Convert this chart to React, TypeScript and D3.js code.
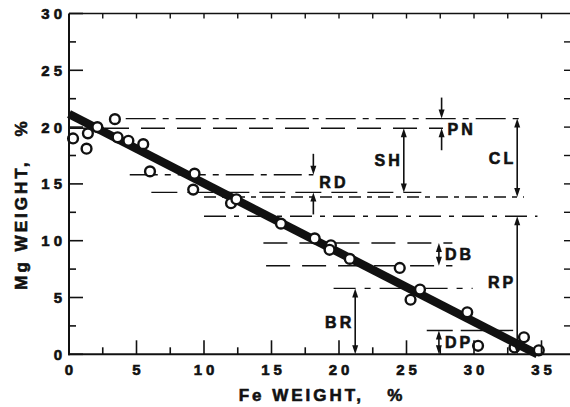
import React from 'react';
import * as d3 from 'd3';

// Measured samples (Fe weight %, Mg weight %)
const feValues = [0.3, 1.4, 1.3, 2.1, 3.4, 3.6, 4.4, 5.5, 6.0, 9.3, 9.2, 12.0, 12.4, 15.7, 18.2, 19.4, 19.3, 20.8, 24.5, 26.0, 25.3, 29.5, 30.3, 33.7, 34.8];
const mgValues = [19.0, 19.45, 18.1, 20.0, 20.7, 19.1, 18.8, 18.5, 16.1, 15.9, 14.5, 13.3, 13.65, 11.5, 10.2, 9.6, 9.2, 8.4, 7.6, 5.7, 4.8, 3.7, 0.75, 1.5, 0.35];
// partly hidden sample under the fitted line
const hiddenFe = [33.0];
const hiddenMg = [0.6];

// Fitted line
const fitFe = [0, 34.7];
const fitMg = [21.15, 0];

// Axis ticks
const xTickValues = [0, 5, 10, 15, 20, 25, 30, 35];
const yTickValues = [0, 5, 10, 15, 20, 25, 30];
const xMinorValues = [2.5, 7.5, 12.5, 17.5, 22.5, 27.5, 32.5];
const yMinorValues = [2.5, 7.5, 12.5, 17.5, 22.5, 27.5];

// Horizontal reference levels (Mg %) with their Fe extent
const levelMg = [20.75, 19.9, 15.8, 14.25, 13.85, 12.15, 9.8, 7.8, 5.8, 2.1];
const levelFeStart = [4.2, 0, 4.5, 6.1, 10.0, 10.0, 14.4, 14.6, 19.6, 26.5];
const levelFeEnd = [33.5, 27.7, 18.1, 26.1, 33.7, 34.7, 28.4, 28.4, 29.9, 32.9];

// Band annotations
const bandNames = ['PN', 'SH', 'CL', 'RD', 'DB', 'RP', 'BR', 'DP'];
const bandFe = [27.6, 24.8, 33.2, 18.1, 27.4, 33.2, 21.2, 27.4];
const bandTop = [20.75, 19.9, 20.75, 15.8, 9.8, 12.15, 5.8, 2.1];
const bandBottom = [19.9, 14.25, 13.85, 14.25, 7.8, 0, 0, 0];

const xTitle = 'Fe WEIGHT,   %';
const yTitle = 'Mg WEIGHT,   %';

// styling (not data)
const levelDash = ['30,7,6,7', '24,12', '28,7,6,7', '26,10', '12,6,5,6', '22,8,5,8', '24,12', '24,12', '22,9,6,9', '26,8'];
const bandOutside = [true, false, false, true, false, false, false, false];
const bandLeft = [false, true, true, false, false, true, true, false];
const bandDy = [6, 0, 1, -1, 0, -3, 1, 0];

const W = 570;
const H = 407;
const FONT = '"Liberation Sans", Arial, Helvetica, sans-serif';
const INK = '#111';

function arrowHead(x: number, tipY: number, dir: number) {
  // dir = 1 : pointing down, -1 : pointing up
  const L = 9;
  const hw = 3;
  return `M${x},${tipY} L${x - hw},${tipY - dir * L} L${x + hw},${tipY - dir * L} Z`;
}

export default function App() {
  const x = d3.scaleLinear().domain([0, 37]).range([69, 568.5]);
  const y = d3.scaleLinear().domain([0, 30]).range([354.3, 13.5]);

  const fitLine = d3
    .line<number>()
    .x((_, i) => x(fitFe[i]))
    .y((_, i) => y(fitMg[i]));

  const x0 = x(0);
  const x1 = 570;
  const y0 = y(0);
  const yTop = y(30);

  const tickFont = { fontFamily: FONT, fontWeight: 700, fontSize: 15, letterSpacing: 4 } as const;
  const labFont = { fontFamily: FONT, fontWeight: 700, fontSize: 16, letterSpacing: 3 } as const;
  const thick = { stroke: INK, strokeWidth: 0.6 };

  return (
    <svg
      width={W}
      height={H}
      viewBox={`0 0 ${W} ${H}`}
      style={{ position: 'absolute', left: 0, top: 0, background: '#fff' }}
    >
      <rect x={0} y={0} width={W} height={H} fill="#fff" />

      {/* reference levels */}
      {levelMg.map((v, i) => (
        <line
          key={'lv' + i}
          x1={x(levelFeStart[i])}
          x2={x(levelFeEnd[i])}
          y1={y(v)}
          y2={y(v)}
          stroke={INK}
          strokeWidth={1.4}
          strokeDasharray={levelDash[i]}
        />
      ))}

      {/* hidden sample */}
      {hiddenFe.map((v, i) => (
        <circle key={'h' + i} cx={x(v)} cy={y(hiddenMg[i])} r={4.9} fill="#fff" stroke={INK} strokeWidth={2.4} />
      ))}

      {/* fitted line */}
      <path d={fitLine(fitFe) || ''} fill="none" stroke={INK} strokeWidth={8.5} />

      {/* samples */}
      {feValues.map((v, i) => (
        <circle key={'p' + i} cx={x(v)} cy={y(mgValues[i])} r={4.9} fill="#fff" stroke={INK} strokeWidth={2.4} />
      ))}

      {/* band arrows */}
      {bandNames.map((name, i) => {
        const ax = x(bandFe[i]);
        const yt = y(bandTop[i]);
        const yb = y(bandBottom[i]);
        const parts: React.ReactNode[] = [];
        if (bandOutside[i]) {
          parts.push(<line key="a" x1={ax} x2={ax} y1={yt - 21} y2={yt - 4} stroke={INK} strokeWidth={1.6} />);
          parts.push(<path key="b" d={arrowHead(ax, yt, 1)} fill={INK} />);
          parts.push(<line key="c" x1={ax} x2={ax} y1={yb + 22} y2={yb + 4} stroke={INK} strokeWidth={1.6} />);
          parts.push(<path key="d" d={arrowHead(ax, yb, -1)} fill={INK} />);
        } else {
          parts.push(<line key="a" x1={ax} x2={ax} y1={yt + 4} y2={yb - 4} stroke={INK} strokeWidth={1.6} />);
          parts.push(<path key="b" d={arrowHead(ax, yt, -1)} fill={INK} />);
          parts.push(<path key="d" d={arrowHead(ax, yb, 1)} fill={INK} />);
        }
        const mid = (yt + yb) / 2 + 5.7 + bandDy[i];
        parts.push(
          <text
            key="t"
            x={bandLeft[i] ? ax - 1 : ax + 6}
            y={mid}
            textAnchor={bandLeft[i] ? 'end' : 'start'}
            fill={INK}
            {...thick}
            style={labFont}
          >
            {name}
          </text>
        );
        return <g key={'band' + i}>{parts}</g>;
      })}

      {/* frame */}
      <line x1={x0} x2={x0} y1={yTop} y2={y0 + 1} stroke={INK} strokeWidth={2} />
      <line x1={x0 - 1} x2={x1} y1={y0} y2={y0} stroke={INK} strokeWidth={2} />
      <line x1={x0} x2={x1} y1={yTop} y2={yTop} stroke={INK} strokeWidth={1.5} />

      {/* bottom ticks */}
      {xTickValues.map((v) => (
        <line key={'bx' + v} x1={x(v)} x2={x(v)} y1={y0} y2={y0 - 14} stroke={INK} strokeWidth={1.6} />
      ))}
      {xMinorValues.map((v) => (
        <line key={'bxm' + v} x1={x(v)} x2={x(v)} y1={y0} y2={y0 - 7} stroke={INK} strokeWidth={1.6} />
      ))}
      {/* top ticks */}
      {[...xTickValues, ...xMinorValues].filter((v) => v > 0).map((v) => (
        <line key={'tx' + v} x1={x(v)} x2={x(v)} y1={yTop} y2={yTop + 5} stroke={INK} strokeWidth={1.4} />
      ))}
      {/* left ticks */}
      {yTickValues.map((v) => (
        <line key={'ly' + v} x1={x0} x2={x0 + 14} y1={y(v)} y2={y(v)} stroke={INK} strokeWidth={1.6} />
      ))}
      {yMinorValues.map((v) => (
        <line key={'lym' + v} x1={x0} x2={x0 + 7} y1={y(v)} y2={y(v)} stroke={INK} strokeWidth={1.6} />
      ))}
      {/* right ticks */}
      {[...yTickValues, ...yMinorValues].filter((v) => v > 0 && v < 30).map((v) => (
        <line key={'ry' + v} x1={x1} x2={x1 - 6} y1={y(v)} y2={y(v)} stroke={INK} strokeWidth={1.4} />
      ))}

      {/* tick labels */}
      {xTickValues.map((v) => (
        <text key={'xl' + v} x={x(v) + 2} y={375} textAnchor="middle" fill={INK} {...thick} style={tickFont}>
          {v}
        </text>
      ))}
      {yTickValues.map((v) => (
        <text key={'yl' + v} x={66} y={y(v) + 5.5} textAnchor="end" fill={INK} {...thick} style={tickFont}>
          {v}
        </text>
      ))}

      {/* axis titles */}
      <text
        x={322}
        y={401}
        textAnchor="middle"
        fill={INK}
        {...thick}
        style={{ fontFamily: FONT, fontWeight: 700, fontSize: 17, letterSpacing: 3, whiteSpace: 'pre' }}
      >
        {xTitle}
      </text>
      <text
        transform="translate(27,204) rotate(-90)"
        textAnchor="middle"
        fill={INK}
        {...thick}
        style={{ fontFamily: FONT, fontWeight: 700, fontSize: 17, letterSpacing: 3, whiteSpace: 'pre' }}
      >
        {yTitle}
      </text>
    </svg>
  );
}
